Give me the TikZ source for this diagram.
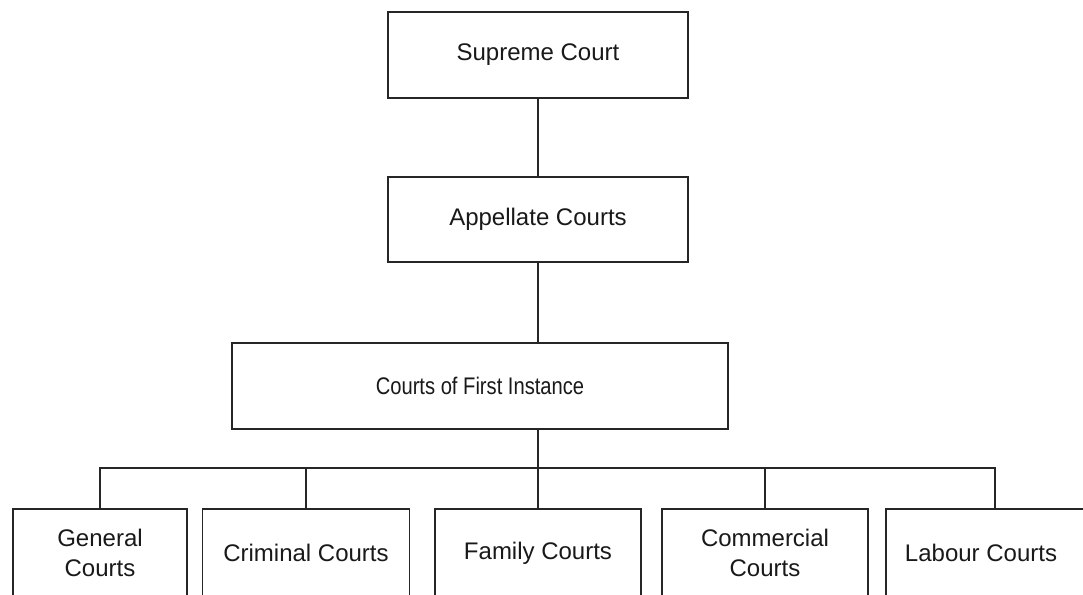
\documentclass[tikz,border=0pt]{standalone}
\usepackage{fontspec}
\setmainfont{Liberation Sans}
\begin{document}
\begin{tikzpicture}[x=1pt,y=1pt,
  box/.style={draw=black!85, line width=1.9pt, fill=white, inner sep=0pt, align=center,
    font=\fontsize{24}{30}\selectfont, text=black!90},
  conn/.style={draw=black!85, line width=1.9pt}]
\useasboundingbox (0,0) rectangle (1083,594);
\clip (0,0) rectangle (1083,594);
% top levels (y flipped: y' = 594 - y)
\node[box, minimum width=300, minimum height=86] (sc) at (538,539) {Supreme Court};
\node[box, minimum width=300, minimum height=85] (ac) at (538,374.5) {Appellate Courts};
\node[box, minimum width=496, minimum height=86] (fi) at (480,208) {\scalebox{0.84}[1]{Courts of First Instance}};
% bottom row
\node[box, minimum width=174, minimum height=88] (gen) at (100,41) {General\\Courts};
\node[box, minimum width=207, minimum height=88] (cri) at (306,41) {Criminal Courts};
\node[box, minimum width=206, minimum height=88] (fam) at (538,41) {Family Courts};
\node[box, minimum width=206, minimum height=88] (com) at (765,41) {Commercial\\Courts};
\node[box, minimum width=218, minimum height=88] (lab) at (995,41) {Labour Courts\hspace*{28pt}};
% connectors
\draw[conn] (sc.south) -- (ac.north);
\draw[conn] (ac.south) -- (fi.north-|ac.south);
\draw[conn] (fi.south-|ac.south) -- ++(0,-38) coordinate (bus);
\draw[conn] (bus) -| (gen.north);
\draw[conn] (bus) -| (cri.north);
\draw[conn] (bus) -- (fam.north);
\draw[conn] (bus) -| (com.north);
\draw[conn] (bus) -| (lab.north);
\end{tikzpicture}
\end{document}
